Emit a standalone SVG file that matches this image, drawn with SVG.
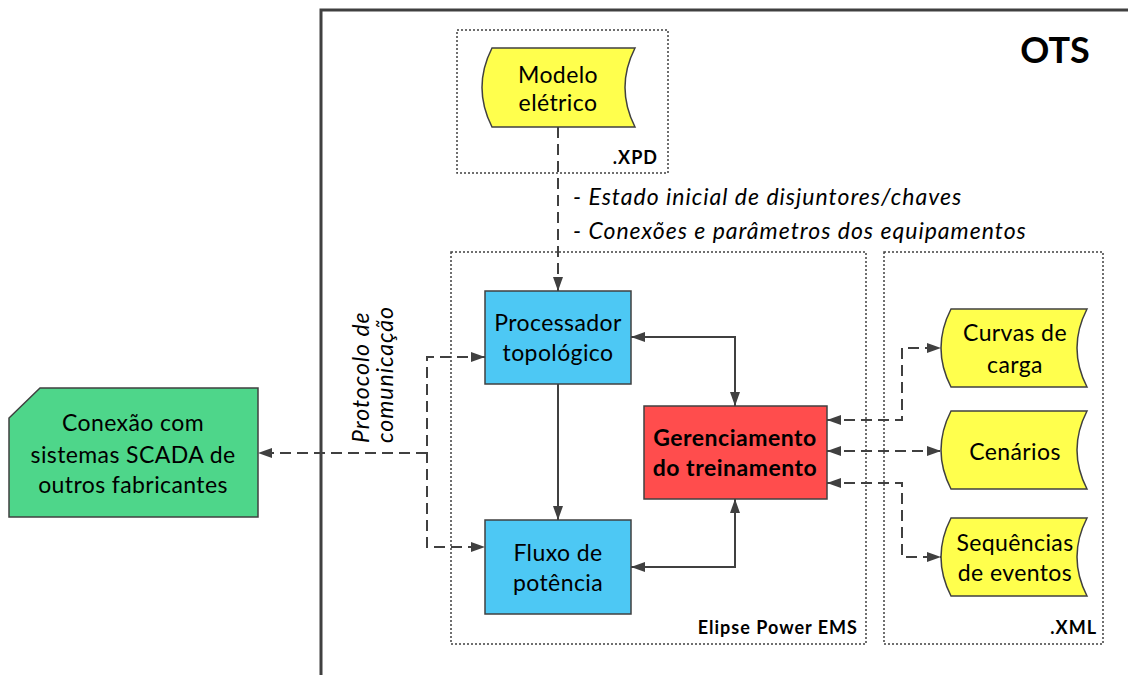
<svg xmlns="http://www.w3.org/2000/svg" width="1128" height="675" viewBox="0 0 1128 675">
<defs>
<style>
.t{font-family:Lato,"Liberation Sans",sans-serif;font-size:23px;letter-spacing:0.4px;fill:#000;text-anchor:middle}
.b{font-weight:bold;letter-spacing:0.5px}
.i{font-style:italic;letter-spacing:1px;text-anchor:start}
.lab{font-family:Lato,"Liberation Sans",sans-serif;font-size:18px;letter-spacing:1px;font-weight:bold;fill:#000;text-anchor:end}
.box{stroke:#404040;stroke-width:1.5}
.dot{fill:none;stroke:#404040;stroke-width:1.5;stroke-dasharray:2,2}
.c{fill:none;stroke:#404040;stroke-width:2}
.d{fill:none;stroke:#404040;stroke-width:2;stroke-dasharray:11,6}
</style>
<marker id="ah" viewBox="0 0 14 10" refX="14" refY="5" markerWidth="14" markerHeight="10" markerUnits="userSpaceOnUse" orient="auto-start-reverse">
<path d="M0,0 L14,5 L0,10 Z" fill="#404040"/>
</marker>
</defs>
<rect width="1128" height="675" fill="#fff"/>
<g id="ots-frame">
<path d="M321,675 L321,10 L1128,10" fill="none" stroke="#404040" stroke-width="3"/>
<text x="1055" y="63" style="font-family:Lato,'Liberation Sans',sans-serif;font-size:36px;font-weight:bold;text-anchor:middle">OTS</text>
</g>
<g id="xpd-group">
<rect class="dot" x="457" y="30" width="211" height="143"/>
<text class="lab" x="658" y="164">.XPD</text>
</g>
<g id="ems-group">
<rect class="dot" x="451" y="252" width="415" height="392"/>
<text class="lab" x="858" y="634">Elipse Power EMS</text>
</g>
<g id="xml-group">
<rect class="dot" x="884" y="252" width="219" height="392"/>
<text class="lab" x="1097" y="634">.XML</text>
</g>
<g id="connectors">
<path class="d" d="M558,127 L558,291" marker-end="url(#ah)"/>
<path class="c" d="M558,384 L558,520" marker-end="url(#ah)"/>
<path class="c" d="M631,337 L735,337 L735,406" marker-start="url(#ah)" marker-end="url(#ah)"/>
<path class="c" d="M735,499 L735,567 L631,567" marker-start="url(#ah)" marker-end="url(#ah)"/>
<path class="d" d="M827,420 L902,420 L902,348 L941,348" marker-start="url(#ah)" marker-end="url(#ah)"/>
<path class="d" d="M827,451 L941,451" marker-start="url(#ah)" marker-end="url(#ah)"/>
<path class="d" d="M827,483 L902,483 L902,557 L941,557" marker-start="url(#ah)" marker-end="url(#ah)"/>
<path class="d" d="M427,453 L258,453" marker-end="url(#ah)"/>
<path class="d" d="M485,357 L427,357 L427,547 L485,547" marker-start="url(#ah)" marker-end="url(#ah)"/>
<text class="t i" x="573" y="205">- Estado inicial de disjuntores/chaves</text>
<text class="t i" x="573" y="239">- Conexões e parâmetros dos equipamentos</text>
<text class="t i" transform="translate(369,443) rotate(-90)">Protocolo de</text>
<text class="t i" transform="translate(393,443) rotate(-90)">comunicação</text>
</g>
<g id="modelo-eletrico">
<path class="box" fill="#FFFF4D" d="M492,48 L635,48 Q615,87.5 635,127 L492,127 Q472,87.5 492,48 Z"/>
<text class="t" x="558" y="83">Modelo</text>
<text class="t" x="558" y="111">elétrico</text>
</g>
<g id="processador-topologico">
<rect class="box" fill="#4DC8F4" x="485" y="291" width="146" height="93"/>
<text class="t" x="558" y="331">Processador</text>
<text class="t" x="558" y="361">topológico</text>
</g>
<g id="fluxo-de-potencia">
<rect class="box" fill="#4DC8F4" x="485" y="520" width="146" height="94"/>
<text class="t" x="558" y="561">Fluxo de</text>
<text class="t" x="558" y="591">potência</text>
</g>
<g id="gerenciamento-do-treinamento">
<rect class="box" fill="#FF4D4D" x="644" y="406" width="183" height="93"/>
<text class="t b" x="735" y="446">Gerenciamento</text>
<text class="t b" x="735" y="476">do treinamento</text>
</g>
<g id="conexao-scada">
<path class="box" fill="#4ED68A" d="M40,388 L258,388 L258,517 L9,517 L9,418 Z"/>
<text class="t" x="133" y="431">Conexão com</text>
<text class="t" x="133" y="463">sistemas SCADA de</text>
<text class="t" x="133" y="493">outros fabricantes</text>
</g>
<g id="curvas-de-carga">
<path class="box" fill="#FFFF4D" d="M951,309 L1087,309 Q1067,348 1087,387 L951,387 Q931,348 951,309 Z"/>
<text class="t" x="1015" y="341">Curvas de</text>
<text class="t" x="1015" y="373">carga</text>
</g>
<g id="cenarios">
<path class="box" fill="#FFFF4D" d="M951,411 L1087,411 Q1067,450 1087,489 L951,489 Q931,450 951,411 Z"/>
<text class="t" x="1015" y="460">Cenários</text>
</g>
<g id="sequencias-de-eventos">
<path class="box" fill="#FFFF4D" d="M951,518 L1087,518 Q1067,557 1087,596 L951,596 Q931,557 951,518 Z"/>
<text class="t" x="1015" y="551">Sequências</text>
<text class="t" x="1015" y="581">de eventos</text>
</g>
</svg>
